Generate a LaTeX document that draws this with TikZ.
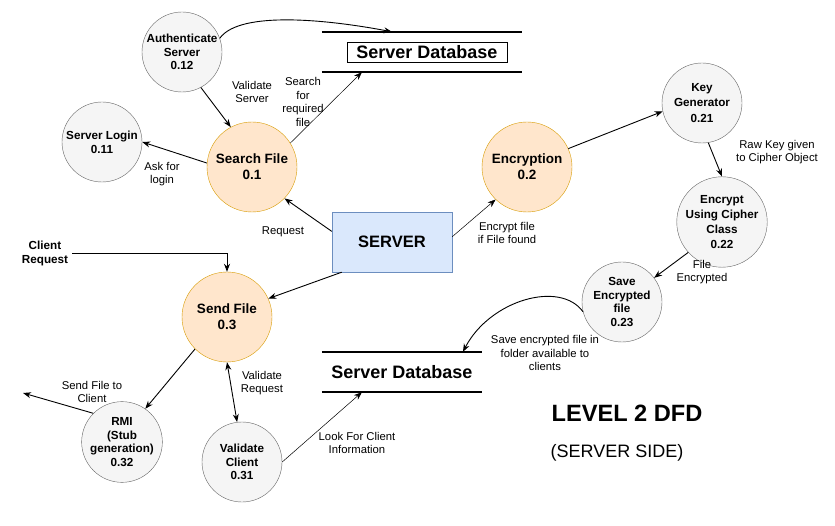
\documentclass[tikz,border=0pt]{standalone}
\usepackage{fontspec}
\setmainfont{Liberation Sans}
\usepackage{tikz}
\usetikzlibrary{positioning,arrows.meta,calc}
\definecolor{procfill}{HTML}{FFE6CC}
\definecolor{procdraw}{HTML}{D79B00}
\definecolor{subfill}{HTML}{F5F5F5}
\definecolor{subdraw}{HTML}{666666}
\definecolor{entfill}{HTML}{DAE8FC}
\definecolor{entdraw}{HTML}{6C8EBF}
\tikzset{%
  every process/.style={
    circle,
    draw=procdraw,
    fill=procfill,
    minimum size=90pt,
    inner sep=0pt,
    align=center,
    font=\bfseries\fontsize{13.5}{16}\selectfont
  },
  sub process/.style={
    circle,
    draw=subdraw,
    fill=subfill,
    minimum size=80pt,
    inner sep=0pt,
    align=center,
    font=\bfseries\fontsize{11.7}{13.8}\selectfont
  },
  flow label/.style={
    align=center,
    inner sep=0pt,
    font=\fontsize{11.3}{13.5}\selectfont
  },
  data store/.style={
    minimum width=#1,
    minimum height=40pt,
    inner sep=0pt,
    font=\bfseries\fontsize{18}{20}\selectfont
  },
  flow/.style={-{Stealth[length=8pt,width=6pt]}, line width=0.9pt},
  thin flow/.style={flow, line width=0.5pt},
  both flow/.style={{Stealth[length=8pt,width=6pt]}-{Stealth[length=8pt,width=6pt]}, line width=0.9pt},
}

\begin{document}
\begin{tikzpicture}[x=1pt, y=-1pt]
\useasboundingbox (0,0) rectangle (835,526);
% processes
\node[every process] (search_file) at (252,167) {Search File\\0.1};
\node[every process] (encryption) at (527,167) {Encryption\\0.2};
\node[every process] (send_file) at (227,317) {Send File\\0.3};
\node[sub process] (auth_server) at (182,52) {Authenticate\\Server\\0.12};
\node[sub process] (server_login) at (102,142) {Server Login\\0.11};
\node[sub process] (key_gen) at (702,103) {Key\\[1.5pt]Generator\\[1.5pt]0.21};
\node[sub process] (cipher) at (722,222) {Encrypt\\[1.5pt]Using Cipher\\[1.5pt]Class\\[1.5pt]0.22};
\node[sub process] (save_file) at (622,302) {Save\\Encrypted\\file\\0.23};
\node[sub process] (rmi) at (122,442) {RMI\\(Stub\\generation)\\0.32};
\node[sub process] (validate_client) at (242,462) {Validate\\Client\\0.31};
\node[draw=entdraw, fill=entfill, minimum width=120pt, minimum height=60pt,
      font=\bfseries\fontsize{16.5}{18}\selectfont] (server) at (392,242) {SERVER};
% data stores
\node[data store=200pt] (db_top) at (422,52) {};
\node[draw, line width=0.9pt, minimum width=160pt, minimum height=20pt, inner sep=0pt,
      font=\bfseries\fontsize{18}{20}\selectfont] (db_top_name) at (427,52) {Server Database};
\node[data store=160pt] (db_bottom) at (402,372) {Server Database};
\foreach \s in {db_top,db_bottom}
    \draw[line width=1.8pt] (\s.north west) -- (\s.north east) (\s.south west) -- (\s.south east);
% labels
\node[flow label] (lbl_validate_server) at (252,92) {Validate\\Server};
\node[flow label] (lbl_search) at (303,102) {Search\\for\\required\\file};
\node[flow label] (lbl_login) at (162,174) {Ask for\\login};
\node[flow label] (lbl_request) at (283,232) {Request};
\node[flow label] (lbl_encrypt) at (507,233) {Encrypt file\\if File found};
\node[flow label] (lbl_raw_key) at (777,152) {Raw Key given\\to Cipher Object};
\node[flow label] (lbl_encrypted) at (702,272) {File\\Encrypted};
\node[flow label] (lbl_save) at (545,353) {Save encrypted file in\\folder available to\\clients};
\node[flow label, font=\bfseries\fontsize{11.7}{14}\selectfont] (client_request) at (45,253) {Client\\Request};
\node[flow label] (lbl_send) at (92,392) {Send File to\\Client};
\node[flow label] (lbl_validate_request) at (262,383) {Validate\\Request};
\node[flow label] (lbl_look) at (357,443) {Look For Client\\Information};
\node[font=\bfseries\fontsize{23.6}{26}\selectfont] (title) at (627,413) {LEVEL 2 DFD};
\node[font=\fontsize{18}{20}\selectfont] (subtitle) at (617,453) {(SERVER SIDE)};
% flows
\draw[flow] (auth_server.20) .. controls (240,10) and (330,20) .. ($(db_top.north west)!0.35!(db_top.north east)$);
\draw[flow] (auth_server.-62) -- (search_file.118);
\draw[flow] (search_file.175) -- (server_login.0);
\draw[thin flow] (search_file.32) -- ($(db_top.south west)!0.2!(db_top.south east)$);
\draw[flow] (server.170) -- (search_file.-44);
\draw[thin flow] (server.5) -- (encryption.226);
\draw[flow] (encryption.24) -- (key_gen.192);
\draw[flow] (key_gen.-81) -- (cipher.90);
\draw[flow] (cipher.222) -- (save_file.37);
\draw[flow] (save_file.194) .. controls (560,280) and (490,300) .. ($(db_bottom.north west)!0.88!(db_bottom.north east)$);
\draw[flow] ([xshift=4pt]client_request.east) -| (send_file.north);
\draw[flow] (server.211) -- (send_file.24);
\draw[flow] (send_file.225) -- (rmi.55);
\coordinate (client_out) at (23,393);
\draw[flow] (rmi.135) -- (client_out);
\draw[both flow] (send_file.270) -- (validate_client.97);
\draw[thin flow] (validate_client.0) -- ($(db_bottom.south west)!0.25!(db_bottom.south east)$);
\end{tikzpicture}
\end{document}
